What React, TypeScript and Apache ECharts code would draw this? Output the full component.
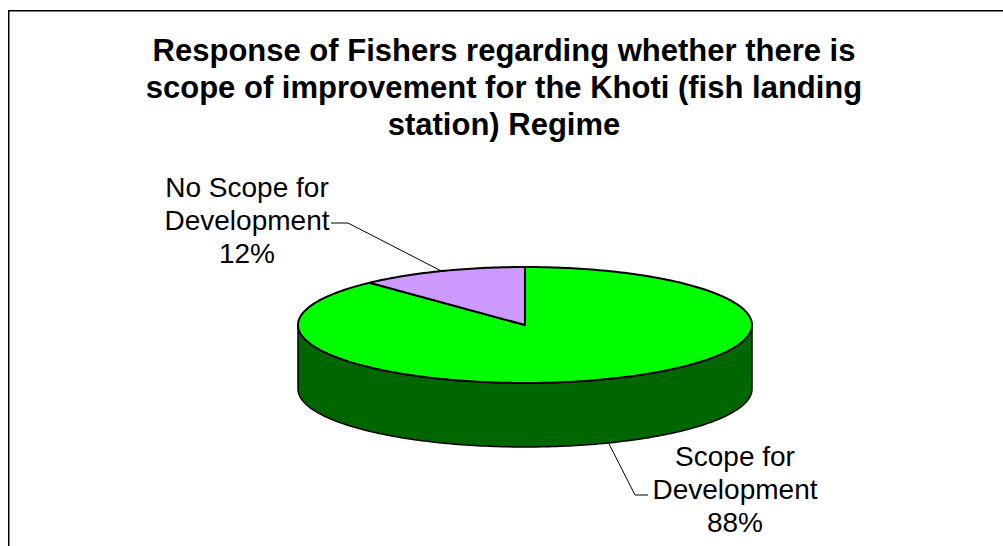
import React, { useEffect, useRef } from "react";
import * as echarts from "echarts";

const titleLines = [
  "Response of Fishers regarding whether there is",
  "scope of improvement for the Khoti (fish landing",
  "station) Regime",
];
const categories = ["Scope for Development", "No Scope for Development"];
const values = [88, 12];
const labelLines = [
  ["Scope for", "Development"],
  ["No Scope for", "Development"],
];

const TOP_COLORS = ["#00FF00", "#CC99FF"];
const SIDE_COLORS = ["#006600", "#9966CC"];

const CX = 525;
const CY = 325;
const RX = 227;
const RY = 58;
const DEPTH = 64;
const FONT = '"Liberation Sans", Arial, sans-serif';

const LABEL_LAYOUT = [
  { x: 735, y: 489, elbow: [635, 495], end: [648, 495] },
  { x: 247, y: 220, elbow: [348, 223], end: [331, 223] },
];

const total = values.reduce((a, b) => a + b, 0);
const starts: number[] = [];
{
  let acc = 0;
  values.forEach((v) => {
    starts.push(acc);
    acc += v;
  });
}

function pt(t: number, dy = 0): number[] {
  return [CX + RX * Math.sin(t), CY - RY * Math.cos(t) + dy];
}
function arc(a1: number, a2: number, dy = 0): number[][] {
  const n = Math.max(2, Math.ceil(Math.abs(a2 - a1) / (Math.PI / 180)));
  const out: number[][] = [];
  for (let i = 0; i <= n; i++) out.push(pt(a1 + ((a2 - a1) * i) / n, dy));
  return out;
}

export default function App() {
  const ref = useRef<HTMLDivElement>(null);
  useEffect(() => {
    if (!ref.current) return;
    const chart = echarts.init(ref.current, undefined, { renderer: "svg" });
    const option: any = {
      animation: false,
      backgroundColor: "#ffffff",
      title: {
        text: titleLines.join("\n"),
        left: 499,
        top: 27,
        textAlign: "center",
        textStyle: {
          fontFamily: FONT,
          fontSize: 31,
          fontWeight: "bold",
          lineHeight: 37,
          color: "#000",
        },
      },
      graphic: [
        {
          type: "polyline",
          silent: true,
          shape: { points: [[8.75, 546], [8.75, 10.75], [1003, 10.75]] },
          style: { stroke: "#000", fill: null, lineWidth: 1.5 },
        },
      ],
      series: [
        {
          type: "custom",
          coordinateSystem: "none",
          data: values.map((v, i) => ({ value: v, name: categories[i] })),
          renderItem: (params: any, api: any) => {
            const i = params.dataIndex;
            const v = api.value(0);
            const a1 = (starts[i] / total) * Math.PI * 2;
            const a2 = a1 + (v / total) * Math.PI * 2;
            const children: any[] = [];
            const s = Math.max(a1, Math.PI / 2);
            const e = Math.min(a2, (3 * Math.PI) / 2);
            if (e > s) {
              const pts = arc(s, e, 0).concat(arc(e, s, DEPTH));
              children.push({
                type: "polygon",
                shape: { points: pts },
                style: { fill: SIDE_COLORS[i], stroke: "#000", lineWidth: 1.5, lineJoin: "round" },
              });
            }
            const topPts = [[CX, CY]].concat(arc(a1, a2, 0));
            children.push({
              type: "polygon",
              shape: { points: topPts },
              style: { fill: TOP_COLORS[i], stroke: "#000", lineWidth: 2, lineJoin: "round" },
            });
            const mid = (a1 + a2) / 2;
            const front = Math.cos(mid) < 0;
            const anchor = pt(mid, front ? DEPTH : 0);
            const lay = LABEL_LAYOUT[i];
            children.push({
              type: "polyline",
              shape: { points: [anchor, lay.elbow, lay.end] },
              style: { stroke: "#000", lineWidth: 1, fill: null },
            });
            const pct = Math.round((v / total) * 100) + "%";
            children.push({
              type: "text",
              style: {
                text: labelLines[i].join("\n") + "\n" + pct,
                x: lay.x,
                y: lay.y,
                align: "center",
                verticalAlign: "middle",
                fontFamily: FONT,
                fontSize: 28,
                lineHeight: 33,
                fill: "#000",
              },
            });
            return { type: "group", children };
          },
        },
      ],
    };
    chart.setOption(option);
    return () => chart.dispose();
  }, []);
  return (
    <div
      ref={ref}
      style={{ position: "absolute", left: 0, top: 0, width: 1003, height: 546, background: "#fff" }}
    />
  );
}
